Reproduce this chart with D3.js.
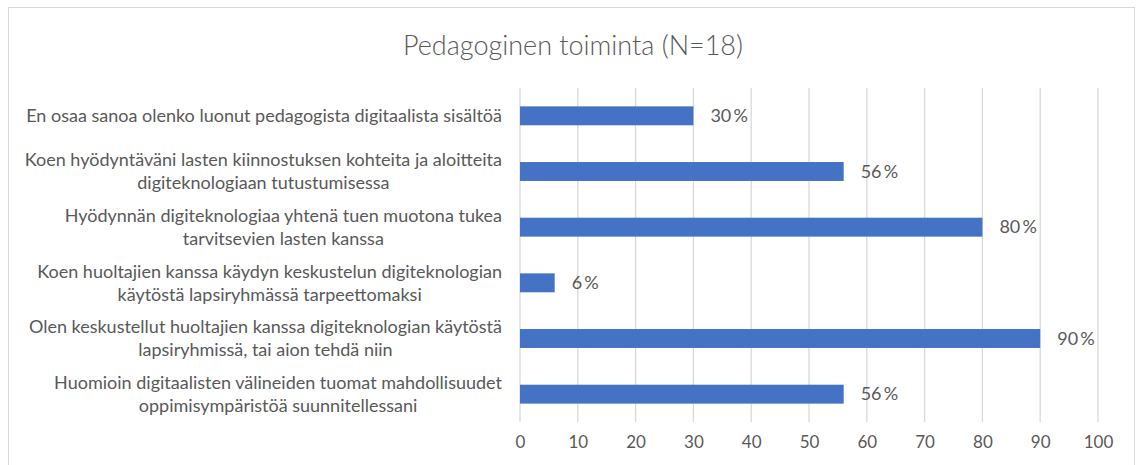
<!DOCTYPE html>
<html>
<head>
<meta charset="utf-8">
<script src="https://d3js.org/d3.v7.min.js"></script>
<style>
  body { margin: 0; background: #fff; }
  text { font-family: "Lato", "Open Sans", sans-serif; fill: #595959; }
</style>
</head>
<body>
<svg id="vis"></svg>
<script>
  // categories, top to bottom (line breaks as in the original)
  var categories = [
    "En osaa sanoa olenko luonut pedagogista digitaalista sisältöä",
    "Koen hyödyntäväni lasten kiinnostuksen kohteita ja aloitteita\ndigiteknologiaan tutustumisessa",
    "Hyödynnän digiteknologiaa yhtenä tuen muotona tukea\ntarvitsevien lasten kanssa",
    "Koen huoltajien kanssa käydyn keskustelun digiteknologian\nkäytöstä lapsiryhmässä tarpeettomaksi",
    "Olen keskustellut huoltajien kanssa digiteknologian käytöstä\nlapsiryhmissä, tai aion tehdä niin",
    "Huomioin digitaalisten välineiden tuomat mahdollisuudet\noppimisympäristöä suunnitellessani"
  ];
  var values = [30, 56, 80, 6, 90, 56];
  var ticks = [0, 10, 20, 30, 40, 50, 60, 70, 80, 90, 100];
  var title = "Pedagoginen toiminta (N=18)";

  var width = 1136;
  var height = 465;

  var svg = d3.select('#vis')
      .attr('width', width)
      .attr('height', height);

  // chart frame
  svg.append('rect')
      .attr('x', 8.5).attr('y', 7.5)
      .attr('width', 1126).attr('height', 470)
      .attr('fill', 'none')
      .attr('stroke', '#d9d9d9');

  var xscale = d3.scaleLinear()
      .domain([0, 100])
      .range([520, 1098]);

  var yscale = d3.scaleBand()
      .domain(d3.range(categories.length))
      .range([88, 422])
      .paddingInner(0.66)
      .paddingOuter(0.33);

  // title
  svg.append('text')
      .attr('x', 573)
      .attr('y', 55)
      .attr('text-anchor', 'middle')
      .style('font-size', '27px')
      .style('font-weight', 300)
      .text(title);

  // gridlines
  svg.selectAll('line.grid')
      .data(ticks)
      .enter().append('line')
      .attr('class', 'grid')
      .attr('x1', function(d) { return xscale(d); })
      .attr('x2', function(d) { return xscale(d); })
      .attr('y1', 88)
      .attr('y2', 422)
      .attr('stroke', '#d9d9d9')
      .attr('stroke-width', 1.3);

  // x axis labels
  var xAxis = d3.axisBottom(xscale).tickValues(ticks).tickSize(0).tickPadding(12);
  var gx = svg.append('g')
      .attr('transform', 'translate(0,424)')
      .call(xAxis);
  gx.select('.domain').remove();
  gx.selectAll('text')
      .style('font-size', '17px')
      .style('font-family', 'Lato, sans-serif')
      .attr('fill', '#595959');

  // bars
  svg.selectAll('rect.bar')
      .data(values)
      .enter().append('rect')
      .attr('class', 'bar')
      .attr('x', xscale(0))
      .attr('y', function(d, i) { return yscale(i); })
      .attr('width', function(d) { return xscale(d) - xscale(0); })
      .attr('height', yscale.bandwidth())
      .attr('fill', '#4472c4');

  // value labels
  svg.selectAll('text.val')
      .data(values)
      .enter().append('text')
      .attr('class', 'val')
      .attr('x', function(d) { return xscale(d) + 17; })
      .attr('y', function(d, i) { return yscale(i) + yscale.bandwidth() / 2; })
      .attr('dy', '0.35em')
      .style('font-size', '18px')
      .text(function(d) { return d + '\u2009%'; });

  // category labels, block right-aligned, lines centred
  var lineH = 23;
  categories.forEach(function(c, i) {
    var lines = c.split('\n');
    var cy = yscale(i) + yscale.bandwidth() / 2;
    var g = svg.append('g');
    var t = g.selectAll('text')
        .data(lines)
        .enter().append('text')
        .attr('text-anchor', 'middle')
        .attr('y', function(d, j) { return cy + (j - (lines.length - 1) / 2) * lineH; })
        .attr('dy', '0.35em')
        .style('font-size', '18px')
        .text(function(d) { return d; });
    var w = d3.max(t.nodes(), function(n) { return n.getComputedTextLength(); });
    t.attr('x', 502 - w / 2);
  });
</script>
</body>
</html>
